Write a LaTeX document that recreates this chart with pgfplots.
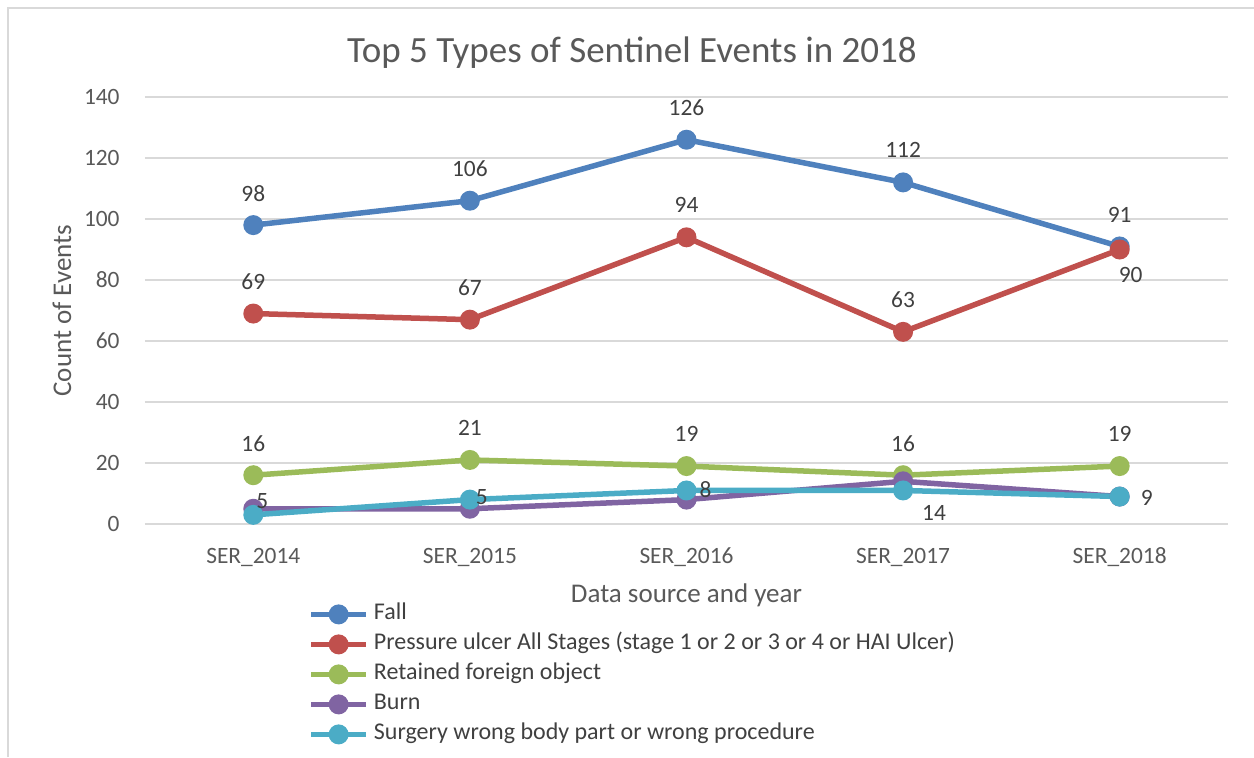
\documentclass[border=0pt]{standalone}
\usepackage{pgfplots}
\pgfplotsset{compat=1.18}
\usepackage{pgfplotstable}
\usepackage{fontspec}
\setmainfont{Carlito}
\definecolor{cFall}{HTML}{4F81BD}
\definecolor{cPress}{HTML}{C0504D}
\definecolor{cRet}{HTML}{9BBB59}
\definecolor{cBurn}{HTML}{8064A2}
\definecolor{cSurg}{HTML}{4BACC6}
\definecolor{gridc}{HTML}{D9D9D9}
\definecolor{txt}{HTML}{595959}
\definecolor{lbl}{HTML}{404040}
% x y dx dy (label offsets in pt)
\pgfplotstableread{
x y dx dy
0 98 0 16
1 106 0 16
2 126 0 16
3 112 0 16
4 91 0 16
}\fall
\pgfplotstableread{
x y dx dy
0 69 0 16
1 67 0 16
2 94 0 16
3 63 0 16
4 90 5.5 -12.5
}\press
\pgfplotstableread{
x y dx dy
0 16 0 16
1 21 0 16
2 19 0 16
3 16 0 16
4 19 0 16
}\ret
\pgfplotstableread{
x y dx dy
0 5 4.5 4
1 5 6 6
2 8 9.5 5
3 14 15.5 -16
4 9 13.5 -0.5
}\burn
\pgfplotstableread{
x y
0 3
1 8
2 11
3 11
4 9
}\surg
\begin{document}
\begin{tikzpicture}
\useasboundingbox (-72.5pt,-116.5pt) rectangle (554.5pt,262pt);
\draw[gridc, line width=1pt] (-68.5pt,-116.5pt) -- (-68.5pt,258pt) -- (554.5pt,258pt);
\begin{axis}[
  at={(0,0)}, anchor=south west,
  scale only axis, width=541.5pt, height=213.5pt,
  xmin=-0.5, xmax=4.5, ymin=0, ymax=140,
  ytick={0,20,...,140},
  xtick={0,1,2,3,4},
  xticklabels={SER\_2014,SER\_2015,SER\_2016,SER\_2017,SER\_2018},
  axis line style={draw=none},
  major tick length=0pt,
  ymajorgrids=true, xmajorgrids=false,
  y grid style={color=gridc, line width=1pt},
  /pgf/number format/assume math mode=true,
  tick label style={font=\fontsize{11.7}{13}\selectfont, text=txt},
  yticklabel style={anchor=east, inner sep=0pt, xshift=-12.5pt},
  xticklabel style={anchor=base, inner sep=0pt, yshift=-19.5pt},
  every axis y label/.style={at={(axis description cs:-0.0766,0.5)}, rotate=90, anchor=center, font=\fontsize{13.5}{15}\selectfont, text=txt},
  every axis x label/.style={at={(axis description cs:0.5,-0.166)}, anchor=center, font=\fontsize{13.5}{15}\selectfont, text=txt},
  ylabel={Count of Events},
  xlabel={Data source and year},
  clip=false,
  every axis plot/.append style={line width=2.75pt, mark=*, mark size=3.6pt, mark options={solid}},
  legend image code/.code={\draw[mark repeat=2, mark phase=2, #1] plot coordinates {(0pt,0pt) (13.75pt,0pt) (27.5pt,0pt)};},
  legend style={draw=none, fill=none, at={(axis description cs:0.1505,-0.1862)}, anchor=north west,
    inner sep=0pt, row sep=4.5pt, column sep=2.5pt,
    font=\fontsize{12}{14}\selectfont, text=lbl,
    nodes={inner sep=0pt, text height=8pt, text depth=2.5pt}},
  legend cell align=left,
  label plot/.style={draw=none, mark=none, forget plot,
    nodes near coords, nodes near coords align={center},
    visualization depends on={\thisrow{dx}\as\dx},
    visualization depends on={\thisrow{dy}\as\dy},
    every node near coord/.append style={font=\fontsize{11.7}{13}\selectfont, text=lbl, inner sep=0pt, xshift=\dx pt, yshift=\dy pt}},
]
\addplot[cFall] table[x=x,y=y] {\fall};
\addlegendentry{Fall}
\addplot[cPress] table[x=x,y=y] {\press};
\addlegendentry{Pressure ulcer All Stages (stage 1 or 2 or 3 or 4 or HAI Ulcer)}
\addplot[cRet] table[x=x,y=y] {\ret};
\addlegendentry{Retained foreign object}
\addplot[cBurn] table[x=x,y=y] {\burn};
\addlegendentry{Burn}
\addplot[cSurg] table[x=x,y=y] {\surg};
\addlegendentry{Surgery wrong body part or wrong procedure}
\addplot[label plot] table[x=x,y=y] {\fall};
\addplot[label plot] table[x=x,y=y] {\press};
\addplot[label plot] table[x=x,y=y] {\ret};
\addplot[label plot] table[x=x,y=y] {\burn};
\end{axis}
\node[anchor=base, text=txt, font=\fontsize{18.5}{22}\selectfont] at (243.5pt,231pt) {Top 5 Types of Sentinel Events in 2018};
\end{tikzpicture}
\end{document}
